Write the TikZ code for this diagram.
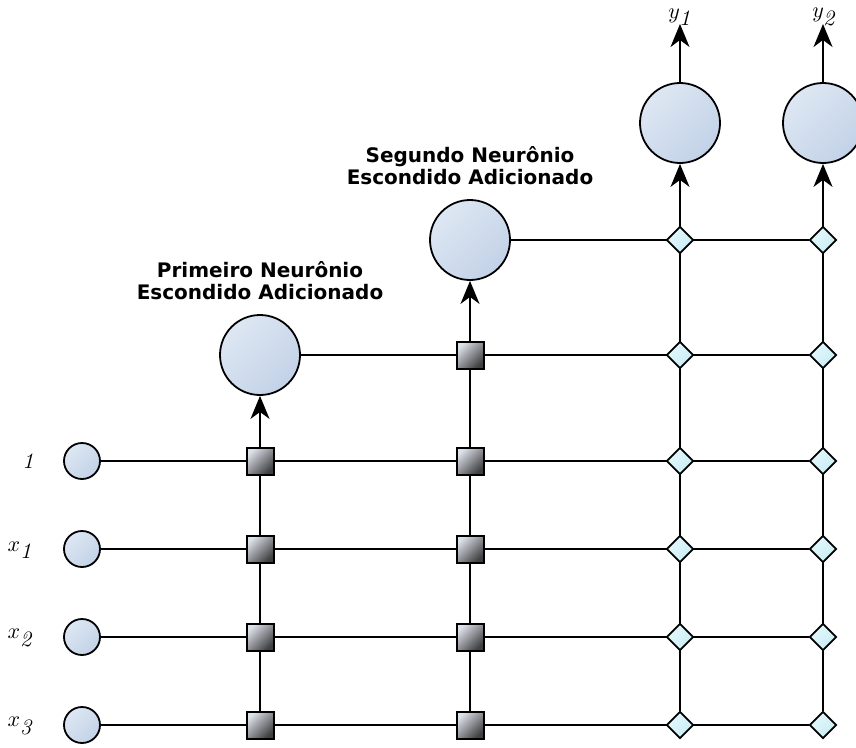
\documentclass[tikz,border=0pt]{standalone}
\usepackage{fontspec}
\newfontfamily\headfont{DejaVu Sans}
\usetikzlibrary{arrows.meta,shapes.geometric,backgrounds}

\definecolor{neuronA}{RGB}{222,231,243}
\definecolor{neuronB}{RGB}{194,210,231}
\definecolor{weightA}{RGB}{222,226,234}
\definecolor{weightB}{RGB}{64,64,66}
\definecolor{outwA}{RGB}{228,248,252}
\definecolor{outwB}{RGB}{200,236,244}

\tikzset{
  neuron/.style={circle, draw=black, line width=1.8pt, inner sep=0pt,
    top color=neuronA, bottom color=neuronB, shading angle=45},
  bigneuron/.style={neuron, minimum size=80pt},
  inneuron/.style={neuron, minimum size=36pt},
  weight/.style={rectangle, draw=black, line width=2pt, inner sep=0pt,
    minimum size=27pt, top color=weightA, bottom color=weightB, shading angle=45},
  outweight/.style={diamond, draw=black, line width=1.8pt, inner sep=0pt,
    minimum size=27pt, top color=outwA, bottom color=outwB, shading angle=45},
  wire/.style={line width=1.8pt},
  feed/.style={wire, -{Stealth[length=23pt, width=19pt, inset=7pt]}},
  caption/.style={align=center, font=\headfont\bfseries\fontsize{20}{22}\selectfont},
  varlabel/.style={inner sep=0pt, scale=2.2},
}

\begin{document}
\begin{tikzpicture}[x=1pt, y=-1pt]
\useasboundingbox (0,0) rectangle (856,747);
\clip (0,0) rectangle (856,747);

% input neurons and their labels
\node[inneuron] (i0) at (82,461) {};
\node[inneuron] (i1) at (82,549) {};
\node[inneuron] (i2) at (82,637) {};
\node[inneuron] (i3) at (82,725) {};
\node[varlabel] (l0) at (28,461) {$\textit{1}$};
\node[varlabel] (l1) at (20,550) {$x_{\textit{1}}$};
\node[varlabel] (l2) at (20,638) {$x_{\textit{2}}$};
\node[varlabel] (l3) at (20,726) {$x_{\textit{3}}$};

% hidden neurons
\node[bigneuron] (h1) at (260,355) {};
\node[bigneuron] (h2) at (470,240) {};
\node[caption] (t1) at (260,281) {Primeiro Neurônio\\Escondido Adicionado};
\node[caption] (t2) at (470,166) {Segundo Neurônio\\Escondido Adicionado};

% output neurons
\node[bigneuron] (o1) at (680,123) {};
\node[bigneuron] (o2) at (823,123) {};
\coordinate (y1) at (680,24);
\coordinate (y2) at (823,24);
\node[varlabel] (ly1) at (680,17) {$y_{\textit{1}}$};
\node[varlabel] (ly2) at (824,17) {$y_{\textit{2}}$};

% weights of the first hidden neuron
\node[weight] (a0) at (260,461) {};
\node[weight] (a1) at (260,549) {};
\node[weight] (a2) at (260,637) {};
\node[weight] (a3) at (260,725) {};

% weights of the second hidden neuron
\node[weight] (bh) at (470,355) {};
\node[weight] (b0) at (470,461) {};
\node[weight] (b1) at (470,549) {};
\node[weight] (b2) at (470,637) {};
\node[weight] (b3) at (470,725) {};

% output weights
\foreach \col/\x in {c/680, d/823} {
  \node[outweight] (\col h2) at (\x,240) {};
  \node[outweight] (\col h1) at (\x,355) {};
  \node[outweight] (\col 0) at (\x,461) {};
  \node[outweight] (\col 1) at (\x,549) {};
  \node[outweight] (\col 2) at (\x,637) {};
  \node[outweight] (\col 3) at (\x,725) {};
}

% connections, drawn behind the nodes
\begin{scope}[on background layer]
  \foreach \r in {0,1,2,3} { \draw[wire] (i\r) -- (d\r); }
  \draw[wire] (h1) -- (dh1);
  \draw[wire] (h2) -- (dh2);
  \draw[feed] (a3) -- (h1);
  \draw[feed] (b3) -- (h2);
  \draw[feed] (c3) -- (o1);
  \draw[feed] (d3) -- (o2);
  \draw[feed] (o1) -- (y1);
  \draw[feed] (o2) -- (y2);
\end{scope}
\end{tikzpicture}
\end{document}
